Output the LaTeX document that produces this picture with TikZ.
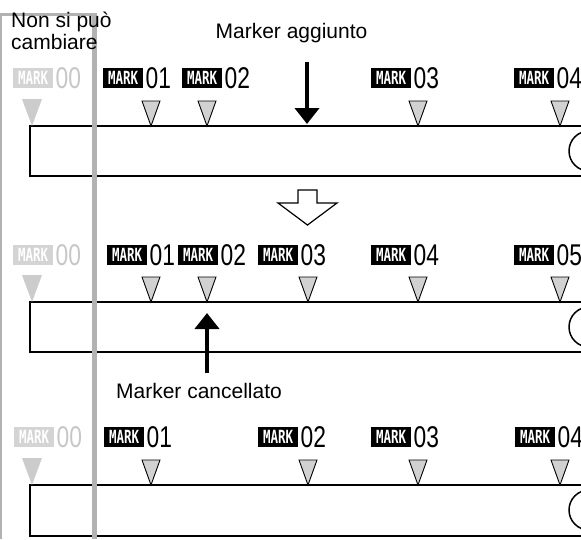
\documentclass[tikz,border=0pt]{standalone}
\usepackage{fontspec}
\setmainfont{Liberation Sans}
\newfontfamily\pixfont{DejaVu Sans Mono}
\usetikzlibrary{arrows.meta,positioning}
\newcommand{\mknum}[1]{\scalebox{0.76}[1]{#1}}
\newcommand{\mktag}{\scalebox{1.0}[1.45]{MARK}}

\begin{document}
\begin{tikzpicture}[
  x=1pt,y=-1pt,
  >={Triangle[length=16pt,width=24pt]},
  strip/.style={draw,line width=1.6pt},
  tri/.style={draw,line width=0.9pt,fill=black!18},
  ghosttri/.style={fill=black!20},
  markbox/.style={fill=black,text=white,inner sep=0pt,minimum width=40pt,
                  minimum height=20pt,anchor=west,
                  font=\pixfont\bfseries\fontsize{12.5}{12.5}\selectfont},
  ghostbox/.style={markbox,fill=black!17},
  marknum/.style={inner sep=0pt,font=\fontsize{30}{30}\selectfont},
  ghostnum/.style={marknum,text=black!22},
  note/.style={inner sep=0pt,font=\fontsize{21}{22}\selectfont},
  bigarr/.style={->,line width=4pt},
  grayline/.style={draw=black!30}
]
\useasboundingbox (0,0) rectangle (581,539);
\clip (0,0) rectangle (581,539);

% the three strips
\draw[strip] (30,126) rectangle (640,176);
\draw[strip] (30,302) rectangle (640,352);
\draw[strip] (30,485) rectangle (640,536);
\draw[line width=1.5pt] (589,151) circle (20);
\draw[line width=1.5pt] (589,327) circle (20);
\draw[line width=1.5pt] (589,510) circle (20);

% markers on the strips
\foreach \x in {151,207,418,560} \draw[tri] (\x,126) -- ++(-9,-25) -- ++(18,0) -- cycle;
\foreach \x in {151,207,308,418,560} \draw[tri] (\x,302) -- ++(-9,-25) -- ++(18,0) -- cycle;
\foreach \x in {151,308,418,560} \draw[tri] (\x,485) -- ++(-9,-25) -- ++(18,0) -- cycle;
\foreach \y in {126,302,485} \fill[ghosttri] (32,\y) -- ++(-10,-27) -- ++(20,0) -- cycle;

% fixed part
\draw[grayline,line width=1.5pt] (1,13) -- (1,539);
\draw[grayline,line width=3.5pt] (0,14.5) -- (96.7,14.5);
\draw[grayline,line width=4.5pt] (94.5,12.7) -- (94.5,539);
\node[note,align=left,anchor=north west] (fix) at (11,12) {Non si può\\cambiare};

% strip 1
\node[ghostbox] (b10) at (13,78) {\mktag};
\node[ghostnum,right=2pt of b10] (n10) {\mknum{00}};
\node[markbox] (b11) at (103,78) {\mktag};
\node[marknum,right=2pt of b11] (n11) {\mknum{01}};
\node[markbox] (b12) at (182,78) {\mktag};
\node[marknum,right=2pt of b12] (n12) {\mknum{02}};
\node[markbox] (b13) at (371,78) {\mktag};
\node[marknum,right=2pt of b13] (n13) {\mknum{03}};
\node[markbox] (b14) at (514,78) {\mktag};
\node[marknum,right=2pt of b14] (n14) {\mknum{04}};

% strip 2
\node[ghostbox] (b20) at (13,255) {\mktag};
\node[ghostnum,right=2pt of b20] (n20) {\mknum{00}};
\node[markbox] (b21) at (107,255) {\mktag};
\node[marknum,right=2pt of b21] (n21) {\mknum{01}};
\node[markbox] (b22) at (178,255) {\mktag};
\node[marknum,right=2pt of b22] (n22) {\mknum{02}};
\node[markbox] (b23) at (258,255) {\mktag};
\node[marknum,right=2pt of b23] (n23) {\mknum{03}};
\node[markbox] (b24) at (371,255) {\mktag};
\node[marknum,right=2pt of b24] (n24) {\mknum{04}};
\node[markbox] (b25) at (514,255) {\mktag};
\node[marknum,right=2pt of b25] (n25) {\mknum{05}};

% strip 3
\node[ghostbox] (b30) at (14,437) {\mktag};
\node[ghostnum,right=2pt of b30] (n30) {\mknum{00}};
\node[markbox] (b31) at (104,437) {\mktag};
\node[marknum,right=2pt of b31] (n31) {\mknum{01}};
\node[markbox] (b32) at (258,437) {\mktag};
\node[marknum,right=2pt of b32] (n32) {\mknum{02}};
\node[markbox] (b33) at (371,437) {\mktag};
\node[marknum,right=2pt of b33] (n33) {\mknum{03}};
\node[markbox] (b34) at (515,437) {\mktag};
\node[marknum,right=2pt of b34] (n34) {\mknum{04}};

% added / deleted
\node[note,anchor=base] (add) at (291.5,38) {Marker aggiunto};
\coordinate (adds) at (307,62);
\coordinate (adde) at (307,124);
\draw[bigarr] (adds) -- (adde);
\node[note,anchor=base] (del) at (199,398) {Marker cancellato};
\coordinate (dels) at (207,373);
\coordinate (dele) at (207,313);
\draw[bigarr] (dels) -- (dele);

% hollow arrow between strips
\draw[line width=1.2pt,fill=white] (298,190) -- (317,190) -- (317,203) -- (337,203)
  -- (307.5,225) -- (278,203) -- (298,203) -- cycle;
\end{tikzpicture}
\end{document}
